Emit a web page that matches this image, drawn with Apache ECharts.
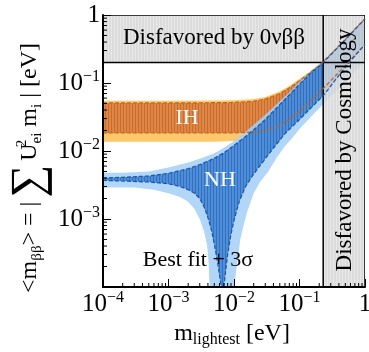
<!DOCTYPE html>
<html>
<head>
<meta charset="utf-8">
<script src="https://cdn.jsdelivr.net/npm/echarts@6/dist/echarts.min.js"></script>
<style>
  html, body { margin: 0; padding: 0; background: #fff; }
  #chart { width: 369px; height: 352px; }
</style>
</head>
<body>
<div id="chart"></div>
<script>
// limits (eV)
const cosmoLimit = 0.23
const dbdLimit = 0.2

// inverted hierarchy, m_lightest grid and band edges
const ihX = [1e-4, 1e-3, 5e-3, 0.01, 0.02, 0.03, 0.05, 0.07, 0.1, 0.15, 0.2, 0.3, 0.5, 0.7, 1]
const ih3sHi = [0.055, 0.055, 0.0553, 0.0557, 0.058, 0.062, 0.075, 0.09, 0.115, 0.152, 0.19, 0.28, 0.46, 0.65, 0.93]
const ih3sLo = [0.0137, 0.0137, 0.0137, 0.014, 0.0147, 0.016, 0.0194, 0.0238, 0.031, 0.0438, 0.0577, 0.085, 0.141, 0.196, 0.28]
const ihBfHi = [0.051, 0.051, 0.0513, 0.0518, 0.054, 0.058, 0.07, 0.085, 0.108, 0.145, 0.18, 0.265, 0.44, 0.62, 0.88]
const ihBfLo = [0.0184, 0.0184, 0.0184, 0.0185, 0.0189, 0.02, 0.0235, 0.029, 0.038, 0.055, 0.072, 0.108, 0.18, 0.255, 0.365]

// normal hierarchy, upper edges
const nhHiX = [1e-4, 2e-4, 5e-4, 1e-3, 2e-3, 3e-3, 4e-3, 5e-3, 7e-3, 0.01, 0.015, 0.02, 0.03, 0.05, 0.07, 0.1, 0.15, 0.2, 0.3, 0.5, 0.7, 1]
const nh3sHi = [0.0048, 0.0048, 0.005, 0.0057, 0.0068, 0.0077, 0.0085, 0.0093, 0.0112, 0.014, 0.0192, 0.0243, 0.0342, 0.054, 0.073, 0.104, 0.152, 0.19, 0.28, 0.46, 0.65, 0.93]
const nhBfHi = [0.004, 0.0041, 0.0043, 0.0047, 0.0055, 0.0063, 0.0071, 0.0078, 0.0094, 0.0121, 0.0163, 0.0205, 0.029, 0.048, 0.067, 0.096, 0.142, 0.176, 0.26, 0.43, 0.61, 0.88]

// normal hierarchy, lower edges (left and right of the cancellation)
const nh3sLoLeftX = [1e-4, 3e-4, 6e-4, 1e-3, 1.5e-3, 2e-3, 2.5e-3, 3e-3, 3.5e-3, 3.9e-3, 4.1e-3, 4.25e-3]
const nh3sLoLeft = [0.0029, 0.0029, 0.0027, 0.0024, 0.0021, 0.0018, 0.0014, 0.001, 0.00065, 0.0004, 0.00022, 0.0001]
const nh3sLoRightX = [0.0101, 0.011, 0.0125, 0.014, 0.016, 0.02, 0.025, 0.033, 0.045, 0.059, 0.08, 0.1, 0.15, 0.24, 0.35, 0.5, 0.7, 1]
const nh3sLoRight = [0.0001, 0.0002, 0.0005, 0.0008, 0.0013, 0.0024, 0.0035, 0.0049, 0.008, 0.0115, 0.016, 0.021, 0.032, 0.051, 0.074, 0.105, 0.147, 0.21]
const nhBfLoLeftX = [1e-4, 5e-4, 1e-3, 1.5e-3, 2e-3, 2.5e-3, 3e-3, 3.5e-3, 4e-3, 4.5e-3, 5e-3, 5.5e-3, 6e-3, 6.4e-3]
const nhBfLoLeft = [0.0037, 0.0035, 0.0033, 0.003, 0.0027, 0.0024, 0.002, 0.0015, 0.00105, 0.0007, 0.00043, 0.00026, 0.00015, 0.0001]
const nhBfLoRightX = [0.007, 0.0075, 0.008, 0.009, 0.01, 0.012, 0.015, 0.02, 0.025, 0.03, 0.04, 0.06, 0.1, 0.15, 0.24, 0.35, 0.5, 0.7, 1]
const nhBfLoRight = [0.0001, 0.00018, 0.0003, 0.0006, 0.00095, 0.0018, 0.003, 0.0046, 0.0061, 0.0077, 0.011, 0.018, 0.029, 0.043, 0.068, 0.11, 0.17, 0.25, 0.37]

// axis ticks
const majorTicks = [1e-4, 1e-3, 1e-2, 1e-1, 1]
const tickExp = ["\u22124", "\u22123", "\u22122", "\u22121", ""]
const minorSteps = [2, 3, 4, 5, 6, 7, 8, 9]

const serif = "Liberation Serif, DejaVu Serif, serif"

function stripes(base, line) {
    const c = document.createElement("canvas")
    c.width = 3
    c.height = 4
    const g = c.getContext("2d")
    g.fillStyle = base
    g.fillRect(0, 0, 3, 4)
    g.fillStyle = line
    g.fillRect(0, 0, 1, 4)
    return c
}
const ihDarkFill = {type: "pattern", image: stripes("#de8646", "#c96c2c"), repeat: "repeat"}
const nhDarkFill = {type: "pattern", image: stripes("#3b83d7", "#2160b0"), repeat: "repeat"}
const grayFill = {type: "pattern", image: stripes("#d5d5d5", "#e3e3e3"), repeat: "repeat"}

const zip = (xs, ys) => xs.map((x, i) => [x, ys[i]])

function band(name, upX, upY, loX, loY, style, z) {
    return {
        type: "custom", name, z, silent: true, clip: true,
        data: [[1e-2, 1e-2]],
        renderItem: (params, api) => {
            const pts = []
            for (let i = 0; i < upX.length; i++) pts.push(api.coord([upX[i], upY[i]]))
            for (let i = loX.length - 1; i >= 0; i--) pts.push(api.coord([loX[i], loY[i]]))
            return {type: "polygon", shape: {points: pts}, style}
        }
    }
}

function dashed(xs, ys, color) {
    return {
        type: "line", data: zip(xs, ys), showSymbol: false, silent: true, z: 8,
        lineStyle: {color, width: 1.2, type: [4, 2]}
    }
}

const grayBoxes = {
    type: "custom", silent: true, z: 6, clip: true,
    data: [[1e-2, 1e-2]],
    renderItem: (params, api) => {
        const tl = api.coord([1e-4, 1])
        const br = api.coord([1, 1e-4])
        const c = api.coord([cosmoLimit, dbdLimit])
        return {
            type: "group",
            children: [
                {type: "rect", shape: {x: tl[0], y: tl[1], width: br[0] - tl[0], height: c[1] - tl[1]},
                    style: {fill: grayFill, opacity: 0.82}},
                {type: "rect", shape: {x: c[0], y: c[1], width: br[0] - c[0], height: br[1] - c[1]},
                    style: {fill: grayFill, opacity: 0.82}},
                {type: "line", shape: {x1: tl[0], y1: c[1], x2: br[0], y2: c[1]}, style: {stroke: "#000", lineWidth: 1.5}},
                {type: "line", shape: {x1: c[0], y1: tl[1], x2: c[0], y2: br[1]}, style: {stroke: "#000", lineWidth: 1.5}},
                {type: "line", shape: {x1: tl[0], y1: tl[1], x2: br[0], y2: tl[1]}, style: {stroke: "#000", lineWidth: 1.5}},
                {type: "line", shape: {x1: br[0], y1: tl[1], x2: br[0], y2: br[1]}, style: {stroke: "#000", lineWidth: 1.5}}
            ]
        }
    }
}

// minor log ticks on left and bottom axes
const minorTicks = {
    type: "custom", silent: true, z: 9,
    data: [[1e-2, 1e-2]],
    renderItem: (params, api) => {
        const children = []
        majorTicks.slice(0, -1).forEach((d) => {
            minorSteps.forEach((k) => {
                const px = api.coord([d * k, 1e-4])
                const py = api.coord([1e-4, d * k])
                children.push({type: "line", shape: {x1: px[0], y1: px[1], x2: px[0], y2: px[1] - 4}, style: {stroke: "#000", lineWidth: 1}})
                children.push({type: "line", shape: {x1: py[0], y1: py[1], x2: py[0] + 4, y2: py[1]}, style: {stroke: "#000", lineWidth: 1}})
            })
        })
        return {type: "group", children}
    }
}

const tickRich = {
    b: {fontFamily: serif, fontSize: 25, lineHeight: 28, color: "#000"},
    s: {fontFamily: serif, fontSize: 16, lineHeight: 14, verticalAlign: "top", color: "#000"}
}
function tickLabel(v) {
    const i = majorTicks.findIndex((t) => Math.abs(Math.log10(t) - Math.log10(v)) < 1e-6)
    if (i < 0) return ""
    return tickExp[i] ? "{b|10}{s|" + tickExp[i] + "}" : "{b|1}"
}

const axisCommon = {
    type: "log", logBase: 10, min: 1e-4, max: 1, z: 10,
    splitLine: {show: false},
    axisLine: {lineStyle: {color: "#000", width: 2}},
    axisTick: {inside: true, length: 8, lineStyle: {color: "#000", width: 1}}
}

const option = {
    animation: false,
    grid: {left: 103, right: 4, top: 15, bottom: 65, outerBoundsMode: "none"},
    xAxis: Object.assign({}, axisCommon, {
        axisLabel: {margin: 3, formatter: tickLabel, rich: tickRich}
    }),
    yAxis: Object.assign({}, axisCommon, {
        axisLabel: {margin: 3, formatter: (v) => (v < 2e-4 ? "" : tickLabel(v)), rich: tickRich}
    }),
    series: [
        band("IH 3s", ihX, ih3sHi, ihX, ih3sLo, {fill: "#fdc86c"}, 2),
        band("IH bf", ihX, ihBfHi, ihX, ihBfLo, {fill: ihDarkFill}, 3),
        band("NH 3s", nhHiX, nh3sHi, nh3sLoLeftX.concat(nh3sLoRightX), nh3sLoLeft.concat(nh3sLoRight), {fill: "#a3cff7", opacity: 0.85}, 4),
        band("NH bf", nhHiX, nhBfHi, nhBfLoLeftX.concat(nhBfLoRightX), nhBfLoLeft.concat(nhBfLoRight), {fill: nhDarkFill, opacity: 0.85}, 5),
        grayBoxes,
        dashed(ihX, ihBfHi, "#c0651f"),
        dashed(ihX, ihBfLo, "#c0651f"),
        dashed(nhHiX, nhBfHi, "#1b55a8"),
        dashed(nhBfLoLeftX, nhBfLoLeft, "#1b55a8"),
        dashed(nhBfLoRightX, nhBfLoRight, "#1b55a8"),
        minorTicks
    ],
    graphic: [
        {type: "text", x: 187, y: 118, z: 100, style: {text: "IH", fill: "#fff", fontFamily: serif, fontSize: 22, align: "center", verticalAlign: "middle"}},
        {type: "text", x: 220, y: 180, z: 100, style: {text: "NH", fill: "#fff", fontFamily: serif, fontSize: 22, align: "center", verticalAlign: "middle"}},
        {type: "text", x: 198, y: 260, z: 100, style: {text: "Best fit + 3\u03c3", fill: "#000", fontFamily: serif, fontSize: 22, align: "center", verticalAlign: "middle"}},
        {type: "text", x: 214, y: 38, z: 100, style: {text: "Disfavored by 0\u03bd\u03b2\u03b2", fill: "#000", fontFamily: serif, fontSize: 23, align: "center", verticalAlign: "middle"}},
        {type: "text", x: 345, y: 150, z: 100, rotation: Math.PI / 2, style: {text: "Disfavored by Cosmology", fill: "#000", fontFamily: serif, fontSize: 23, align: "center", verticalAlign: "middle"}},
        {type: "text", x: 232, y: 334, z: 100, style: {
            text: "{t|m}{sub|lightest}{t| [eV]}", align: "center", verticalAlign: "middle",
            rich: {
                t: {fontFamily: serif, fontSize: 24, lineHeight: 28, fill: "#000"},
                sub: {fontFamily: serif, fontSize: 16, lineHeight: 14, verticalAlign: "bottom", fill: "#000"}
            }
        }},
        {type: "text", x: 30, y: 168, z: 100, rotation: Math.PI / 2, style: {
            text: "{t|<m}{sub|\u03b2\u03b2}{t|> = |}{sig|\u2211}{t|U}{sup|2}{sub|ei}{t| m}{sub|i}{t| | [eV]}",
            align: "center", verticalAlign: "middle",
            rich: {
                t: {fontFamily: serif, fontSize: 24, lineHeight: 30, fill: "#000"},
                sig: {fontFamily: serif, fontSize: 46, lineHeight: 30, fill: "#000", padding: [0, 4, 0, 4]},
                sup: {fontFamily: serif, fontSize: 15, lineHeight: 14, verticalAlign: "top", fill: "#000", width: 0},
                sub: {fontFamily: serif, fontSize: 15, lineHeight: 14, verticalAlign: "bottom", fill: "#000"}
            }
        }}
    ]
}

const chart = echarts.init(document.getElementById("chart"))
chart.setOption(option)
</script>
</body>
</html>
